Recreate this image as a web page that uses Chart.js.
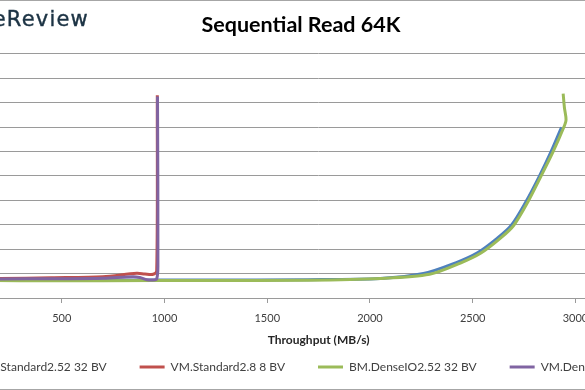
<!DOCTYPE html>
<html>
<head>
<meta charset="utf-8">
<script src="https://cdn.jsdelivr.net/npm/chart.js@4.4.1/dist/chart.umd.min.js"></script>
<style>
  body { margin: 0; background: #fff; }
  #frame { position: relative; width: 585px; height: 390px; overflow: hidden; background: #fff; }
  #box { position: absolute; left: -108px; top: 0; width: 800px; height: 390px; border: 1px solid #a6a6a6; box-sizing: border-box; }
  #logo { position: absolute; right: 496px; top: 9px; font-family: "DejaVu Sans"; font-size: 21px; letter-spacing: 1.2px; line-height: 20px; color: #1c3344; -webkit-text-stroke: 0.4px #1c3344; white-space: nowrap; }
</style>
</head>
<body>
<div id="frame">
  <div id="box"><canvas id="seqRead" width="798" height="388"></canvas></div>
  <div id="logo">StorageReview</div>
</div>
<script>
// throughput (MB/s) vs latency
var seriesNames = ["VM.Standard2.52 32 BV", "VM.Standard2.8 8 BV", "BM.DenseIO2.52 32 BV", "VM.DenseIO2.8 8 BV"];

var std252X = [40, 300, 700, 1200, 1700, 2050, 2260, 2420, 2525, 2620, 2688, 2758, 2822, 2880, 2932];
var std252Y = [0.74, 0.73, 0.73, 0.74, 0.75, 0.80, 1.0, 1.45, 1.86, 2.45, 2.98, 3.93, 4.95, 5.97, 6.99];

var std28X = [40, 200, 450, 700, 865, 905, 945, 962, 965];
var std28Y = [0.79, 0.80, 0.83, 0.87, 1.01, 0.98, 0.97, 1.1, 8.3];

var dense252X = [40, 300, 700, 1200, 1700, 2050, 2290, 2440, 2540, 2635, 2700, 2768, 2830, 2890, 2943, 2954, 2946, 2940];
var dense252Y = [0.72, 0.71, 0.71, 0.72, 0.73, 0.80, 0.97, 1.43, 1.84, 2.45, 2.98, 3.93, 4.95, 5.97, 6.99, 7.3, 7.8, 8.37];

var dense28X = [40, 200, 450, 700, 846, 880, 915, 945, 962, 968, 966];
var dense28Y = [0.78, 0.78, 0.79, 0.81, 0.87, 0.84, 0.75, 0.74, 0.78, 1.3, 8.25];

var colors = ["#4F81BD", "#C0504D", "#9BBB59", "#8064A2"];

function pts(xs, ys) {
  return xs.map(function (x, i) { return { x: x, y: ys[i] }; });
}

function line(i, xs, ys, order) {
  return {
    label: seriesNames[i],
    data: pts(xs, ys),
    borderColor: colors[i],
    backgroundColor: colors[i],
    borderWidth: 3,
    pointRadius: 0,
    pointStyle: "line",
    tension: 0.3,
    fill: false,
    order: order,
  };
}

Chart.defaults.font.family = "Lato";

var ctx = document.getElementById("seqRead");
var seqChart = new Chart(ctx, {
  type: "line",
  data: {
    datasets: [
      line(0, std252X, std252Y, 4),
      line(1, std28X, std28Y, 3),
      line(2, dense252X, dense252Y, 2),
      line(3, dense28X, dense28Y, 1),
    ],
  },
  options: {
    responsive: false,
    animation: false,
    devicePixelRatio: 1,
    layout: { padding: { left: 10, right: -8, top: 0, bottom: 6 } },
    plugins: {
      title: {
        display: true,
        text: "Sequential Read 64K",
        color: "#000",
        font: { size: 21.5, weight: "bold" },
        padding: { top: 11, bottom: 16 },
      },
      legend: {
        position: "bottom",
        labels: {
          usePointStyle: true,
          pointStyle: "line",
          pointStyleWidth: 25,
          padding: 33,
          color: "#404040",
          font: { size: 12 },
          sort: function (a, b) { return a.datasetIndex - b.datasetIndex; },
        },
      },
      tooltip: { enabled: false },
    },
    scales: {
      x: {
        type: "linear",
        min: 0,
        max: 3500,
        afterFit: function (s) { s.height = 30; },
        ticks: { stepSize: 500, padding: 0, color: "#404040", font: { size: 11, lineHeight: "30px" }, format: { useGrouping: false } },
        grid: { drawOnChartArea: false, drawTicks: true, tickLength: 5, color: "#9a9a9a" },
        border: { display: true, color: "#9a9a9a" },
        title: {
          display: true,
          text: "Throughput (MB/s)",
          color: "#262626",
          font: { size: 12, weight: "bold" },
          padding: { top: 0, bottom: -19 },
        },
      },
      y: {
        min: 0,
        max: 10,
        afterFit: function (s) { s.width = 56; },
        ticks: { stepSize: 1, display: false },
        grid: { color: "#9a9a9a", drawTicks: false },
        border: { display: false },
      },
    },
  },
});
</script>
</body>
</html>
